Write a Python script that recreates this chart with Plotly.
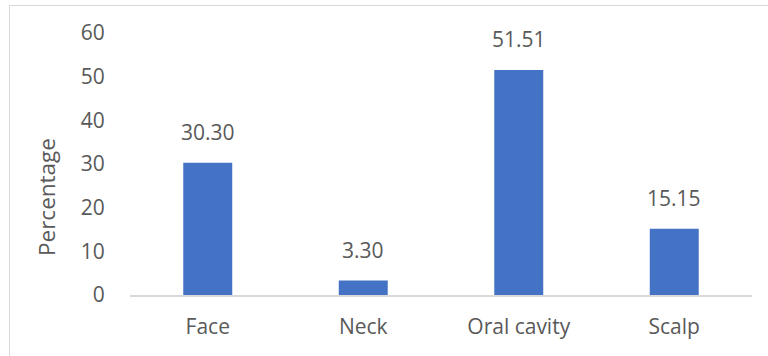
import plotly.graph_objects as go

# Lesion site distribution
sites = ["Face", "Neck", "Oral cavity", "Scalp"]
percentages = [30.30, 3.30, 51.51, 15.15]
y_ticks = [0, 10, 20, 30, 40, 50, 60]

BAR_COLOR = "#4472C4"
TEXT_COLOR = "#595959"
LINE_COLOR = "#D9D9D9"
FONT = "Open Sans"

fig = go.Figure(
    go.Bar(
        x=sites,
        y=percentages,
        marker=dict(color=BAR_COLOR, line=dict(width=0)),
        width=0.315,
        hoverinfo="skip",
    )
)

# Value labels sitting above each bar
for s, v in zip(sites, percentages):
    fig.add_annotation(
        x=s, y=v, text=f"{v:.2f}", showarrow=False,
        yanchor="bottom", yshift=15,
        font=dict(family=FONT, size=21, color=TEXT_COLOR),
    )

# Vertical axis title
fig.add_annotation(
    xref="paper", yref="paper",
    x=(47 - 130) / 622, y=(295 - 197) / 262,
    text="Percentage", textangle=-90, showarrow=False,
    xanchor="center", yanchor="middle",
    font=dict(family=FONT, size=22.5, color=TEXT_COLOR),
)

# Chart area border
fig.add_shape(
    type="rect", xref="paper", yref="paper",
    x0=(9.5 - 130) / 622, x1=1.2, y0=-0.5, y1=1 + 27.5 / 262,
    line=dict(color=LINE_COLOR, width=1), fillcolor="rgba(0,0,0,0)",
    layer="below",
)

fig.update_layout(
    width=768, height=356,
    margin=dict(l=130, r=16, t=33, b=61),
    paper_bgcolor="white", plot_bgcolor="white",
    showlegend=False,
    bargap=0.685,
    font=dict(family=FONT, size=21, color=TEXT_COLOR),
)
fig.update_xaxes(
    showline=True, linecolor=LINE_COLOR, linewidth=1.5,
    showgrid=False, zeroline=False,
    ticks="outside", ticklen=12, tickcolor="rgba(0,0,0,0)",
    tickfont=dict(family=FONT, size=21, color=TEXT_COLOR),
)
fig.update_yaxes(
    range=[0, 60], tickvals=y_ticks,
    showline=False, showgrid=False, zeroline=False,
    ticks="outside", ticklen=20, tickcolor="rgba(0,0,0,0)",
    tickfont=dict(family=FONT, size=21, color=TEXT_COLOR),
)

fig.write_html("out.html")
